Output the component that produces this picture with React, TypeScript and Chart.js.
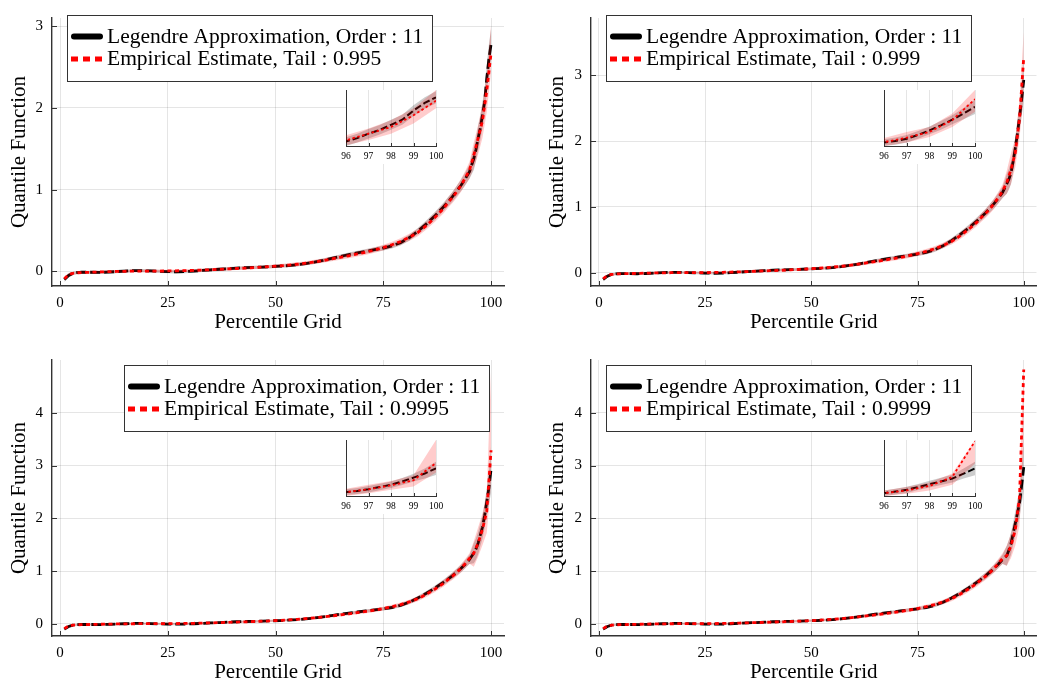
import React, { useEffect, useRef } from "react";
import { Chart, registerables } from "chart.js";
Chart.register(...registerables);

// ---------------- data ----------------
const percentileBase = [1, 2, 3, 4, 5, 7, 9, 11, 13, 15, 17, 19, 21, 23, 25, 27, 29, 31, 33, 35, 37, 39, 41, 43, 45, 47, 49, 51, 53, 55, 57, 59, 61, 63, 65, 67, 69, 71, 73, 75, 77, 79, 81, 83, 85, 87, 89, 90, 91, 92, 93, 94, 95];
const legendreBase = [-0.10, -0.05, -0.025, -0.015, -0.012, -0.012, -0.014, -0.010, -0.004, 0.002, 0.008, 0.008, 0.004, 0.0, -0.004, -0.006, -0.004, 0.002, 0.010, 0.018, 0.025, 0.032, 0.040, 0.045, 0.048, 0.052, 0.058, 0.063, 0.070, 0.080, 0.094, 0.112, 0.133, 0.157, 0.182, 0.205, 0.225, 0.245, 0.265, 0.285, 0.31, 0.35, 0.41, 0.49, 0.58, 0.68, 0.79, 0.85, 0.91, 0.98, 1.05, 1.13, 1.22];
const empiricalBase = [-0.09, -0.04, -0.025, -0.018, -0.015, -0.012, -0.008, -0.005, -0.002, 0.0, 0.002, 0.003, 0.003, 0.003, 0.004, 0.006, 0.008, 0.011, 0.015, 0.019, 0.024, 0.029, 0.034, 0.039, 0.045, 0.051, 0.058, 0.066, 0.075, 0.086, 0.099, 0.114, 0.131, 0.150, 0.170, 0.190, 0.212, 0.235, 0.260, 0.290, 0.325, 0.365, 0.415, 0.475, 0.56, 0.66, 0.77, 0.84, 0.90, 0.97, 1.05, 1.14, 1.24];
const legendreBandBase = [0.03, 0.025, 0.02, 0.02, 0.02, 0.02, 0.02, 0.02, 0.02, 0.02, 0.02, 0.02, 0.02, 0.02, 0.02, 0.02, 0.02, 0.02, 0.02, 0.02, 0.02, 0.02, 0.02, 0.02, 0.02, 0.02, 0.02, 0.02, 0.02, 0.02, 0.021, 0.022, 0.023, 0.024, 0.025, 0.026, 0.027, 0.028, 0.029, 0.03, 0.032, 0.034, 0.037, 0.04, 0.044, 0.048, 0.053, 0.056, 0.06, 0.065, 0.07, 0.078, 0.088];
const empiricalBandBase = [0.025, 0.02, 0.015, 0.015, 0.015, 0.015, 0.015, 0.015, 0.015, 0.015, 0.015, 0.015, 0.015, 0.015, 0.015, 0.015, 0.016, 0.016, 0.017, 0.017, 0.018, 0.018, 0.019, 0.019, 0.02, 0.02, 0.021, 0.022, 0.023, 0.024, 0.025, 0.026, 0.027, 0.028, 0.029, 0.03, 0.031, 0.032, 0.034, 0.036, 0.038, 0.04, 0.043, 0.046, 0.05, 0.055, 0.06, 0.064, 0.068, 0.073, 0.08, 0.088, 0.1];

const legendreTailX = [96, 96.5, 97, 97.5, 98, 98.5, 99, 99.5, 100];
const empiricalTailX = [96, 97, 98, 99, 100];

// Tail 0.995
const legendreTail995 = [1.38, 1.49, 1.63, 1.75, 1.91, 2.07, 2.36, 2.60, 2.78];
const legendreLow995 = [1.24, 1.35, 1.48, 1.60, 1.75, 1.91, 2.19, 2.42, 2.59];
const legendreHigh995 = [1.52, 1.63, 1.78, 1.90, 2.07, 2.23, 2.53, 2.78, 2.97];
const empiricalTail995 = [1.42, 1.63, 1.84, 2.21, 2.67];
const empiricalLow995 = [1.26, 1.43, 1.63, 1.95, 2.43];
const empiricalHigh995 = [1.58, 1.79, 2.05, 2.43, 3.01];
// Tail 0.999
const legendreTail999 = [1.35, 1.42, 1.52, 1.69, 1.89, 2.11, 2.36, 2.63, 2.93];
const legendreLow999 = [1.20, 1.26, 1.35, 1.52, 1.72, 1.92, 2.16, 2.38, 2.61];
const legendreHigh999 = [1.50, 1.58, 1.69, 1.86, 2.06, 2.30, 2.56, 2.88, 3.25];
const empiricalTail999 = [1.37, 1.57, 1.82, 2.34, 3.27];
const empiricalLow999 = [1.20, 1.35, 1.60, 2.04, 2.71];
const empiricalHigh999 = [1.55, 1.82, 2.04, 2.63, 3.67];
// Tail 0.9995
const legendreTail9995 = [1.34, 1.42, 1.53, 1.68, 1.83, 2.05, 2.31, 2.58, 2.93];
const legendreLow9995 = [1.15, 1.22, 1.32, 1.47, 1.61, 1.81, 2.05, 2.25, 2.49];
const legendreHigh9995 = [1.53, 1.62, 1.74, 1.89, 2.05, 2.29, 2.57, 2.91, 3.37];
const empiricalTail9995 = [1.34, 1.53, 1.79, 2.13, 3.29];
const empiricalLow9995 = [1.08, 1.27, 1.49, 1.72, 2.65];
const empiricalHigh9995 = [1.57, 1.83, 2.09, 2.46, 4.82];
// Tail 0.9999
const legendreTail9999 = [1.29, 1.40, 1.52, 1.71, 1.90, 2.09, 2.28, 2.62, 2.97];
const legendreLow9999 = [1.10, 1.21, 1.31, 1.50, 1.67, 1.84, 2.01, 2.28, 2.51];
const legendreHigh9999 = [1.48, 1.59, 1.73, 1.92, 2.13, 2.34, 2.55, 2.96, 3.43];
const empiricalTail9999 = [1.29, 1.48, 1.78, 2.39, 4.82];
const empiricalLow9999 = [1.10, 1.25, 1.48, 1.86, 3.30];
const empiricalHigh9999 = [1.48, 1.71, 2.01, 2.62, 4.90];

const xTicks = [0, 25, 50, 75, 100];
const yTicksTop = [0, 1, 2, 3];
const yTicksBottom = [0, 1, 2, 3, 4];
const insetTicks = [96, 97, 98, 99, 100];

const legendreLabel = "Legendre Approximation, Order : 11";
const empiricalLabels = [
  "Empirical Estimate, Tail : 0.995",
  "Empirical Estimate, Tail : 0.999",
  "Empirical Estimate, Tail : 0.9995",
  "Empirical Estimate, Tail : 0.9999",
];
const xTitle = "Percentile Grid";
const yTitle = "Quantile Function";

// ---------------- layout ----------------
const FONT = "'Liberation Serif', 'Times New Roman', serif";
const AXIS = "#333333";
const GRID = "rgba(0,0,0,0.1)";

const tails = [
  { leg: legendreTail995, legLo: legendreLow995, legHi: legendreHigh995, emp: empiricalTail995, empLo: empiricalLow995, empHi: empiricalHigh995, insetY: [1.24, 3.01] },
  { leg: legendreTail999, legLo: legendreLow999, legHi: legendreHigh999, emp: empiricalTail999, empLo: empiricalLow999, empHi: empiricalHigh999, insetY: [1.20, 3.67] },
  { leg: legendreTail9995, legLo: legendreLow9995, legHi: legendreHigh9995, emp: empiricalTail9995, empLo: empiricalLow9995, empHi: empiricalHigh9995, insetY: [1.08, 4.82] },
  { leg: legendreTail9999, legLo: legendreLow9999, legHi: legendreHigh9999, emp: empiricalTail9999, empLo: empiricalLow9999, empHi: empiricalHigh9999, insetY: [1.10, 4.90] },
];

const panels = [
  { left: 0, top: 0, w: 520, h: 342, area: { l: 52, t: 6, r: 504, b: 286 }, yMin: -0.18, yMax: 3.10, yTicks: yTicksTop, legend: { x: 67, y: 15 }, yTitleX: 25, inset: { l: 346, t: 90, r: 436, b: 146 } },
  { left: 520, top: 0, w: 523, h: 342, area: { l: 71, t: 6, r: 523, b: 286 }, yMin: -0.2, yMax: 3.87, yTicks: yTicksTop, legend: { x: 86, y: 15 }, yTitleX: 43, inset: { l: 884, t: 90, r: 975, b: 146 } },
  { left: 0, top: 342, w: 520, h: 342, area: { l: 52, t: 13, r: 504, b: 294 }, yMin: -0.23, yMax: 5.0, yTicks: yTicksBottom, legend: { x: 124, y: 23 }, yTitleX: 25, inset: { l: 346, t: 440, r: 436, b: 496 } },
  { left: 520, top: 342, w: 523, h: 342, area: { l: 71, t: 13, r: 523, b: 294 }, yMin: -0.23, yMax: 5.0, yTicks: yTicksBottom, legend: { x: 86, y: 23 }, yTitleX: 43, inset: { l: 884, t: 440, r: 975, b: 496 } },
];

function pts(xs: number[], ys: number[]) {
  return xs.map((x, i) => ({ x, y: ys[i] }));
}

function buildSeries(t: any) {
  const lx = [...percentileBase, ...legendreTailX];
  const ex = [...percentileBase, ...empiricalTailX];
  return {
    leg: pts(lx, [...legendreBase, ...t.leg]),
    legLo: pts(lx, [...legendreBase.map((v, i) => v - legendreBandBase[i]), ...t.legLo]),
    legHi: pts(lx, [...legendreBase.map((v, i) => v + legendreBandBase[i]), ...t.legHi]),
    emp: pts(ex, [...empiricalBase, ...t.emp]),
    empLo: pts(ex, [...empiricalBase.map((v, i) => v - empiricalBandBase[i]), ...t.empLo]),
    empHi: pts(ex, [...empiricalBase.map((v, i) => v + empiricalBandBase[i]), ...t.empHi]),
  };
}

function makeDatasets(s: any, inset: boolean) {
  const base = { pointRadius: 0, pointHoverRadius: 0, tension: 0, borderWidth: 0 };
  return [
    { ...base, data: s.legLo, borderColor: "transparent", fill: false, order: 6 },
    { ...base, data: s.legHi, borderColor: "transparent", backgroundColor: "rgba(0,0,0,0.2)", fill: "-1", order: 5 },
    { ...base, data: s.leg, borderColor: "#000000", borderWidth: inset ? 2 : 2.8, borderDash: inset ? [7, 3] : [10, 4], fill: false, order: 4 },
    { ...base, data: s.empLo, borderColor: "transparent", fill: false, order: 3 },
    { ...base, data: s.empHi, borderColor: "transparent", backgroundColor: "rgba(255,0,0,0.2)", fill: "-1", order: 2 },
    { ...base, data: s.emp, borderColor: "#ff0000", borderWidth: inset ? 1.8 : 2.8, borderDash: inset ? [2.5, 2.5] : [4, 3.5], fill: false, order: 1 },
  ];
}

function fixedTicks(values: number[]) {
  return (scale: any) => {
    scale.ticks = values.map((v) => ({ value: v }));
  };
}

function mainConfig(p: any, idx: number) {
  const s = buildSeries(tails[idx]);
  const decor = {
    id: "decor" + idx,
    afterDraw(chart: any) {
      const ctx = chart.ctx;
      const ca = chart.chartArea;
      const xs = chart.scales.x;
      const ys = chart.scales.y;
      ctx.save();
      // inward tick marks
      ctx.strokeStyle = AXIS;
      ctx.lineWidth = 1;
      ctx.beginPath();
      xTicks.forEach((v) => {
        const px = Math.round(xs.getPixelForValue(v)) + 0.5;
        ctx.moveTo(px, ca.bottom);
        ctx.lineTo(px, ca.bottom - 5);
      });
      p.yTicks.forEach((v: number) => {
        const py = Math.round(ys.getPixelForValue(v)) + 0.5;
        ctx.moveTo(ca.left, py);
        ctx.lineTo(ca.left + 5, py);
      });
      ctx.stroke();
      // axis titles
      ctx.fillStyle = "#000";
      ctx.font = `21px ${FONT}`;
      ctx.textAlign = "center";
      ctx.textBaseline = "alphabetic";
      ctx.fillText(xTitle, (ca.left + ca.right) / 2, ca.bottom + 42);
      ctx.save();
      ctx.translate(p.yTitleX, (ca.top + ca.bottom) / 2);
      ctx.rotate(-Math.PI / 2);
      ctx.fillText(yTitle, 0, 0);
      ctx.restore();
      // legend
      const bx = p.legend.x;
      const by = p.legend.y;
      const bw = 365;
      const bh = 66;
      ctx.fillStyle = "#ffffff";
      ctx.fillRect(bx, by, bw, bh);
      ctx.strokeStyle = "#333333";
      ctx.lineWidth = 1;
      ctx.strokeRect(bx + 0.5, by + 0.5, bw, bh);
      ctx.lineCap = "round";
      ctx.strokeStyle = "#000";
      ctx.lineWidth = 6;
      ctx.beginPath();
      ctx.moveTo(bx + 7, by + 21.5);
      ctx.lineTo(bx + 33, by + 21.5);
      ctx.stroke();
      ctx.lineCap = "butt";
      ctx.setLineDash([7, 5]);
      ctx.strokeStyle = "#ff0000";
      ctx.lineWidth = 5;
      ctx.beginPath();
      ctx.moveTo(bx + 4, by + 44);
      ctx.lineTo(bx + 36, by + 44);
      ctx.stroke();
      ctx.setLineDash([]);
      ctx.fillStyle = "#000";
      ctx.textAlign = "left";
      ctx.font = `21.5px ${FONT}`;
      ctx.fillText(legendreLabel, bx + 40, by + 28);
      ctx.fillText(empiricalLabels[idx], bx + 40, by + 50);
      ctx.restore();
    },
  };
  return {
    type: "line",
    data: { datasets: makeDatasets(s, false) },
    options: {
      animation: false,
      responsive: false,
      maintainAspectRatio: false,
      events: [],
      layout: { padding: { left: 0, top: p.area.t, right: p.w - p.area.r, bottom: 0 } },
      plugins: { legend: { display: false }, tooltip: { enabled: false } },
      scales: {
        x: {
          type: "linear",
          min: -1.86,
          max: 103,
          afterBuildTicks: fixedTicks(xTicks),
          afterFit: (sc: any) => { sc.height = p.h - p.area.b; },
          grid: { color: GRID, lineWidth: 1, drawTicks: false },
          border: { display: true, color: AXIS, width: 1.4 },
          ticks: { font: { family: FONT, size: 15 }, color: "#000", padding: 8, maxRotation: 0, autoSkip: false },
        },
        y: {
          type: "linear",
          min: p.yMin,
          max: p.yMax,
          afterBuildTicks: fixedTicks(p.yTicks),
          afterFit: (sc: any) => { sc.width = p.area.l; },
          grid: { color: GRID, lineWidth: 1, drawTicks: false },
          border: { display: true, color: AXIS, width: 1.4 },
          ticks: { font: { family: FONT, size: 15 }, color: "#000", padding: 9, autoSkip: false },
        },
      },
    },
    plugins: [decor],
  };
}

function insetConfig(p: any, idx: number) {
  const s = buildSeries(tails[idx]);
  const [ymin, ymax] = tails[idx].insetY;
  const bg = {
    id: "insetbg" + idx,
    beforeDraw(chart: any) {
      const ctx = chart.ctx;
      const ca = chart.chartArea;
      ctx.save();
      ctx.fillStyle = "#ffffff";
      ctx.fillRect(ca.left, ca.top, ca.right - ca.left, ca.bottom - ca.top);
      ctx.fillRect(ca.left - 8, ca.bottom, ca.right - ca.left + 18, 18);
      ctx.restore();
    },
    afterDraw(chart: any) {
      const ctx = chart.ctx;
      const ca = chart.chartArea;
      const xs = chart.scales.x;
      ctx.save();
      ctx.strokeStyle = AXIS;
      ctx.lineWidth = 1;
      ctx.beginPath();
      insetTicks.forEach((v) => {
        const px = Math.round(xs.getPixelForValue(v)) + 0.5;
        ctx.moveTo(px, ca.bottom);
        ctx.lineTo(px, ca.bottom - 3);
      });
      ctx.stroke();
      ctx.restore();
    },
  };
  return {
    type: "line",
    data: { datasets: makeDatasets(s, true) },
    options: {
      animation: false,
      responsive: false,
      maintainAspectRatio: false,
      events: [],
      layout: { padding: { left: 0, top: 6, right: 16, bottom: 0 } },
      plugins: { legend: { display: false }, tooltip: { enabled: false } },
      scales: {
        x: {
          type: "linear",
          min: 96,
          max: 100,
          afterBuildTicks: fixedTicks(insetTicks),
          afterFit: (sc: any) => { sc.height = 22; },
          grid: { color: GRID, lineWidth: 1, drawTicks: false },
          border: { display: true, color: AXIS, width: 1 },
          ticks: { font: { family: FONT, size: 9.5 }, color: "#000", padding: 5, maxRotation: 0, autoSkip: false },
        },
        y: {
          type: "linear",
          min: ymin,
          max: ymax,
          afterFit: (sc: any) => { sc.width = 16; },
          grid: { display: false },
          border: { display: true, color: AXIS, width: 1 },
          ticks: { display: false },
        },
      },
    },
    plugins: [bg],
  };
}

export default function App() {
  const mainRefs = useRef<(HTMLCanvasElement | null)[]>([]);
  const insetRefs = useRef<(HTMLCanvasElement | null)[]>([]);

  useEffect(() => {
    const charts: Chart[] = [];
    panels.forEach((p, i) => {
      const c = mainRefs.current[i];
      if (c) charts.push(new Chart(c, mainConfig(p, i) as any));
    });
    panels.forEach((p, i) => {
      const c = insetRefs.current[i];
      if (c) charts.push(new Chart(c, insetConfig(p, i) as any));
    });
    return () => charts.forEach((ch) => ch.destroy());
  }, []);

  return (
    <div style={{ position: "absolute", left: 0, top: 0, width: 1043, height: 684, background: "#ffffff", overflow: "hidden" }}>
      {panels.map((p, i) => (
        <canvas
          key={"m" + i}
          ref={(el) => { mainRefs.current[i] = el; }}
          width={p.w}
          height={p.h}
          style={{ position: "absolute", left: p.left, top: p.top, width: p.w, height: p.h }}
        />
      ))}
      {panels.map((p, i) => {
        const w = p.inset.r - p.inset.l + 32;
        const h = p.inset.b - p.inset.t + 28;
        return (
          <canvas
            key={"i" + i}
            ref={(el) => { insetRefs.current[i] = el; }}
            width={w}
            height={h}
            style={{ position: "absolute", left: p.inset.l - 16, top: p.inset.t - 6, width: w, height: h }}
          />
        );
      })}
    </div>
  );
}
